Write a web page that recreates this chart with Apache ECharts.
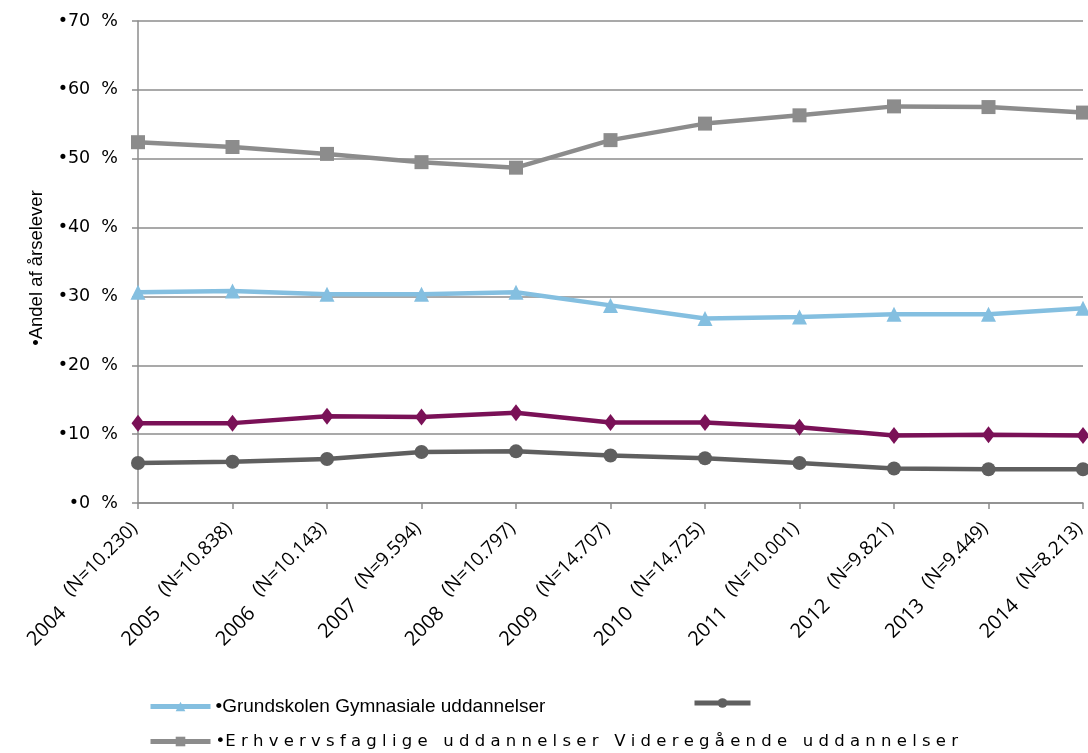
<!DOCTYPE html>
<html>
<head>
<meta charset="utf-8">
<script src="https://cdn.jsdelivr.net/npm/echarts@6/dist/echarts.min.js"></script>
<style>
  html, body { margin: 0; padding: 0; background: #fff; }
  #chart { width: 1088px; height: 753px; }
</style>
</head>
<body>
<div id="chart"></div>
<script>
// Years and cohort sizes shown on the category axis
const years = ['2004', '2005', '2006', '2007', '2008', '2009', '2010', '2011', '2012', '2013', '2014'];
const cohortN = ['10.230', '10.838', '10.143', '9.594', '10.797', '14.707', '14.725', '10.001', '9.821', '9.449', '8.213'];

// Share of pupils (%) per education track
const erhvervsfaglige = [52.4, 51.7, 50.7, 49.5, 48.7, 52.7, 55.1, 56.3, 57.6, 57.5, 56.7];
const gymnasiale = [30.6, 30.8, 30.3, 30.3, 30.6, 28.7, 26.8, 27.0, 27.4, 27.4, 28.3];
const videregaaende = [11.6, 11.6, 12.6, 12.5, 13.1, 11.7, 11.7, 11.0, 9.8, 9.9, 9.8];
const grundskolen = [5.8, 6.0, 6.4, 7.4, 7.5, 6.9, 6.5, 5.8, 5.0, 4.9, 4.9];

const yTicks = [0, 10, 20, 30, 40, 50, 60, 70];

const categories = years.map((y, i) => y + '  (N=' + cohortN[i] + ')');

const nameA = '•Grundskolen Gymnasiale uddannelser';
const nameB = 'grundskole';
const nameC = '•E r h v e r v s f a g l i g e   u d d a n n e l s e r   V i d e r e g å e n d e   u d d a n n e l s e r';
const nameD = 'videregaaende';

const chart = echarts.init(document.getElementById('chart'));

function lineSeries(name, data, color, symbol, size, z) {
  return {
    name: name,
    type: 'line',
    data: data,
    symbol: symbol,
    symbolSize: size,
    z: z,
    lineStyle: { color: color, width: 4.5 },
    itemStyle: { color: color },
    emphasis: { disabled: true },
    animation: false
  };
}

const legendLine = { width: 5 };

chart.setOption({
  backgroundColor: '#fff',
  animation: false,
  grid: { left: 138, right: 5, top: 21, bottom: 250, containLabel: false, outerBoundsMode: 'none' },
  legend: [
    {
      data: [nameA], left: 148, top: 697, itemWidth: 60, itemHeight: 12, itemGap: 0,
      lineStyle: legendLine, padding: 0,
      textStyle: { color: '#000', fontFamily: 'Liberation Sans', fontSize: 19 }
    },
    {
      data: [nameB], left: 692, top: 697, itemWidth: 56, itemHeight: 12,
      lineStyle: legendLine, padding: 0,
      formatter: () => '', textStyle: { fontSize: 19 }
    },
    {
      data: [nameC], left: 148, top: 733, itemWidth: 60, itemHeight: 12,
      lineStyle: legendLine, padding: 0,
      textStyle: { color: '#000', fontFamily: 'DejaVu Sans', fontSize: 16.5 }
    }
  ],
  xAxis: {
    type: 'category',
    data: categories,
    boundaryGap: false,
    axisLine: { lineStyle: { color: '#8c8c8c', width: 1.5 } },
    axisTick: { show: true, alignWithLabel: true, length: 6, lineStyle: { color: '#8c8c8c', width: 1.5 } },
    axisLabel: {
      rotate: 45, interval: 0, margin: 26, color: '#000',
      fontFamily: 'Open Sans', fontSize: 19,
      // year sits a little below the cohort size on the slanted label
      formatter: v => {
        const parts = v.split('  ');
        return '{y|' + parts[0] + '}   {n|' + parts[1] + '}';
      },
      rich: {
        y: { fontFamily: 'Open Sans', fontSize: 20, color: '#000', verticalAlign: 'bottom' },
        n: { fontFamily: 'Open Sans', fontSize: 19, color: '#000', padding: [0, 0, 10, 0], verticalAlign: 'bottom' }
      }
    },
    splitLine: { show: false }
  },
  yAxis: {
    type: 'value',
    min: yTicks[0],
    max: yTicks[yTicks.length - 1],
    interval: 10,
    name: '•Andel af årselever',
    nameLocation: 'middle',
    nameRotate: 90,
    nameGap: 87,
    nameTextStyle: { color: '#000', fontFamily: 'Liberation Sans', fontSize: 18.5, padding: [0, 12, 0, 0] },
    axisLine: { show: true, lineStyle: { color: '#8c8c8c', width: 1.5 } },
    axisTick: { show: true, length: 6, lineStyle: { color: '#8c8c8c', width: 1.5 } },
    axisLabel: {
      formatter: v => '•' + v + '  %', margin: 20, color: '#000',
      fontFamily: 'DejaVu Sans', fontSize: 17.5
    },
    splitLine: { show: true, lineStyle: { color: '#8c8c8c', width: 1.5 } }
  },
  series: [
    lineSeries(nameC, erhvervsfaglige, '#8c8c8c', 'rect', 14, 3),
    lineSeries(nameA, gymnasiale, '#84bfe0', 'triangle', 15, 4),
    lineSeries(nameD, videregaaende, '#7a1157', 'diamond', [13, 17], 5),
    lineSeries(nameB, grundskolen, '#5f5f5f', 'circle', 14, 6)
  ]
});
</script>
</body>
</html>
